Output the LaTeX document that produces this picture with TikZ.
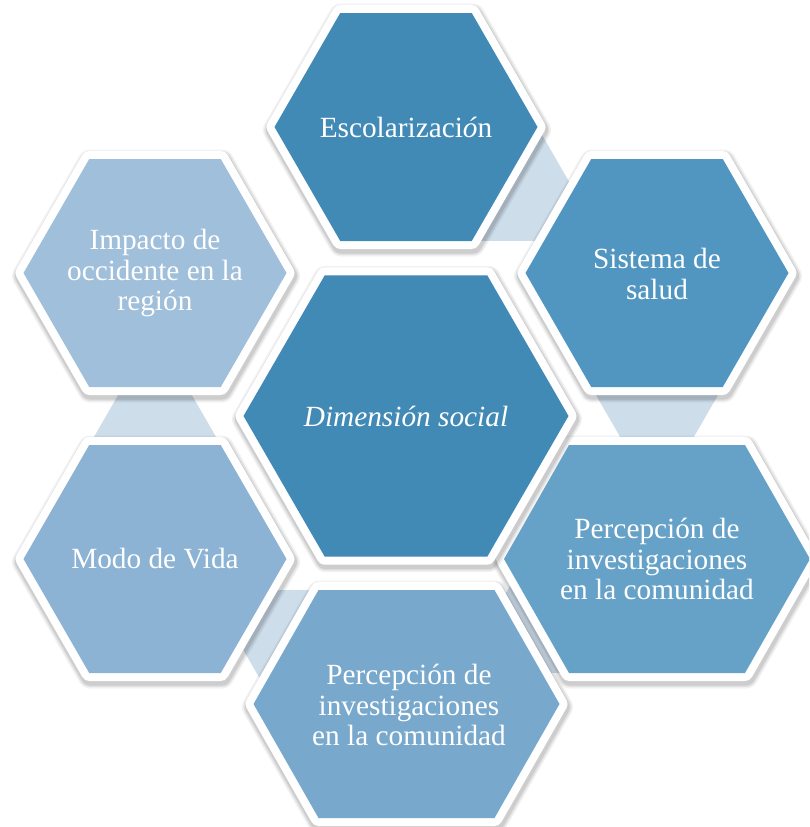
\documentclass[tikz,border=0pt]{standalone}
\usepackage{fontspec}
\setmainfont{Liberation Serif}
\definecolor{cDark}{HTML}{428AB6}
\definecolor{cSis}{HTML}{5196C1}
\definecolor{cRP}{HTML}{66A2C8}
\definecolor{cBP}{HTML}{78A9CD}
\definecolor{cModo}{HTML}{8CB3D3}
\definecolor{cImp}{HTML}{A0BFDA}
\definecolor{cBand}{HTML}{CDDDEA}
\newcommand\hexcell[6]{%
  \def\hexpts{({#1-#3},{#2}) -- ({#1-#4},{#2-#5}) -- ({#1+#4},{#2-#5}) -- ({#1+#3},{#2}) -- ({#1+#4},{#2+#5}) -- ({#1-#4},{#2+#5}) -- cycle}%
  \foreach \w/\o in {25/0.05,22/0.07,19/0.09}{%
    \draw[black, opacity=\o, line width=\w, line join=round, shift={(1,3)}] \hexpts;}%
  \draw[white, line width=16, line join=round] \hexpts;%
  \fill[#6] \hexpts;%
}
\tikzset{
  txt/.style={text=white, align=center, font=\fontsize{29.3}{30.5}\selectfont, inner sep=0pt},
  band/.style={fill=cBand}
}
\begin{document}
\begin{tikzpicture}[x=1pt,y=-1pt]
\useasboundingbox (0,0) rectangle (809,827);
\clip (0,0) rectangle (809,827);
% connector bands
\fill[band] (340.25,240.9) -- (471.75,13.1) -- (603.25,240.9) -- cycle;
\fill[band] (525.5,273) -- (788.5,273) -- (657,500.8) -- cycle;
\fill[band] (591.25,445.1) -- (722.75,672.9) -- (459.75,672.9) -- cycle;
\fill[band] (471.75,590.1) -- (340.25,817.9) -- (208.75,590.1) -- cycle;
\fill[band] (23.5,559) -- (286.5,559) -- (155,331.2) -- cycle;
% hexagons
\hexcell{406}{127}{131.5}{65.75}{114}{cDark}
\hexcell{657}{273}{131.5}{65.75}{114}{cSis}
\hexcell{657}{559}{153}{88}{114}{cRP}
\hexcell{406.5}{704}{153}{88}{114}{cBP}
\hexcell{155}{559}{131.5}{65.75}{114}{cModo}
\hexcell{155}{273}{131.5}{65.75}{114}{cImp}
\hexcell{406}{416}{162.5}{81.25}{140.7}{cDark}
% texts
\node[txt] (esc) at (406,127) {Escolarizaci\textit{ó}n};
\node[txt] (sis) at (657,274) {Sistema de\\salud};
\node[txt] (rp) at (657,559) {Percepción de\\investigaciones\\en la comunidad};
\node[txt] (bp) at (409,705) {Percepción de\\investigaciones\\en la comunidad};
\node[txt] (modo) at (155,559) {Modo de Vida};
\node[txt] (imp) at (155,273) {Impacto de\\occidente en la\\región};
\node[txt] (ctr) at (406,416) {\itshape Dimensión social};
\end{tikzpicture}
\end{document}
